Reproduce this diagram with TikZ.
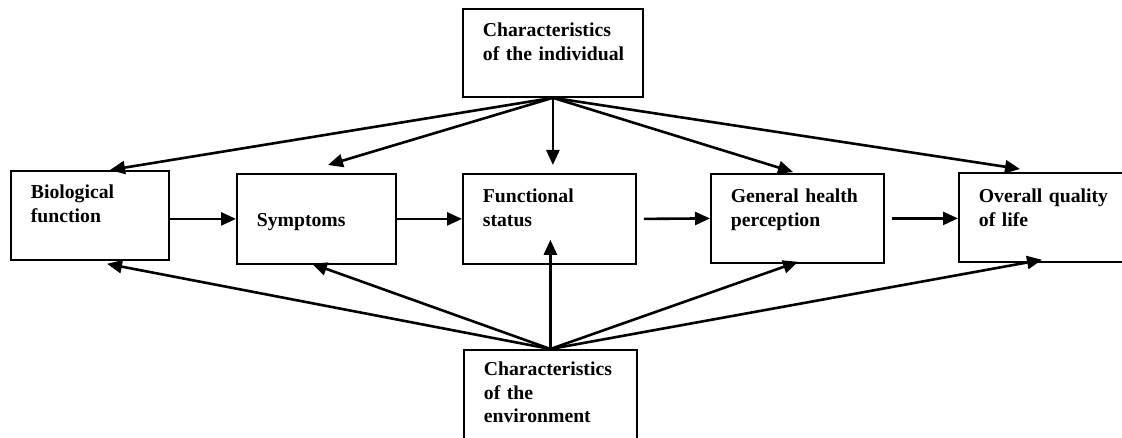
\documentclass[tikz,border=0pt]{standalone}
\usepackage{fontspec}
\setmainfont{Liberation Serif}
\usetikzlibrary{arrows.meta, calc}
\newcommand{\stagefont}{\fontsize{19.7pt}{23.5pt}\selectfont\bfseries}

\begin{document}
\begin{tikzpicture}[
    x=1pt, y=-1pt,
    stage/.style={rectangle, draw=black, line width=1.8pt, anchor=north west,
                  align=left, font=\stagefont, inner xsep=20pt, inner ysep=13pt,
                  text height=15pt},
    flow/.style={-{Triangle[length=15pt, width=13pt]}, line width=2.6pt},
  ]
    \useasboundingbox (0,0) rectangle (1122,438);

    % context boxes
    \node[stage, text width=140pt, text depth=47pt] (indiv) at (462,8)
      {Characteristics\\\mbox{of the individual}};
    \node[stage, text width=133pt, text height=13pt, text depth=72pt] (env) at (463,349)
      {Characteristics\\of the\\environment};

    % main chain
    \node[stage, text width=118pt, text depth=48pt] (bio) at (10,170)
      {Biological\\function};
    \node[stage, text width=119pt, text height=40pt, text depth=24pt] (sym) at (236,173)
      {Symptoms};
    \node[stage, text width=133pt, text height=16pt, text depth=48pt] (func) at (462,173)
      {Functional\\status};
    \node[stage, text width=133pt, text height=16pt, text depth=47pt] (gen) at (710,173)
      {General health\\perception};
    \node[stage, text width=142pt, text height=17pt, text depth=46pt] (qol) at (958,172)
      {Overall quality\\of life};

    \draw[flow] (bio.east |- sym.west) -- (sym.west);
    \draw[flow] (sym.east) -- (func.west |- sym.east);
    \draw[flow] ([xshift=7pt]func.east) -- (gen.west);
    \draw[flow] ([xshift=7pt]gen.east) -- (qol.west |- gen.east);

    % from the individual
    \draw[flow] (indiv.south) -- ([xshift=100pt]bio.north west);
    \draw[flow] (indiv.south) -- ([xshift=92pt, yshift=8pt]sym.north west);
    \draw[flow] (indiv.south) -- ($(indiv.south |- func.north)+(0,8pt)$);
    \draw[flow] (indiv.south) -- ([xshift=83pt, yshift=1pt]gen.north west);
    \draw[flow] (indiv.south) -- ([xshift=62pt, yshift=3pt]qol.north west);

    % from the environment
    \draw[flow] (env.north) -- ([xshift=97pt, yshift=-3pt]bio.south west);
    \draw[flow] (env.north) -- ([xshift=76pt, yshift=1pt]sym.south west);
    \draw[flow] (env.north) -- ($(env.north |- func.south)+(0,25pt)$);
    \draw[flow] (env.north) -- ([xshift=88pt, yshift=2pt]gen.south west);
    \draw[flow] (env.north) -- ([xshift=84pt, yshift=3pt]qol.south west);
\end{tikzpicture}
\end{document}
